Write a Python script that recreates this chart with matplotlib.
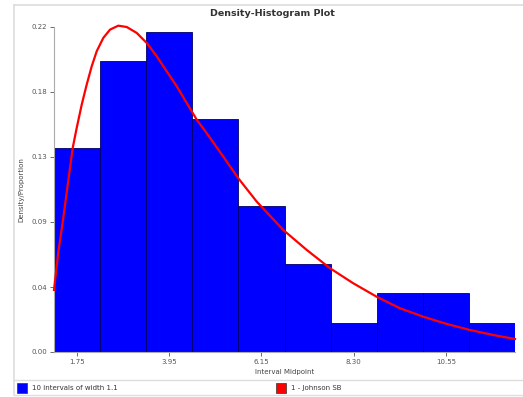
import matplotlib
matplotlib.use('Agg')
import matplotlib.pyplot as plt
from matplotlib.patches import Rectangle
from matplotlib.lines import Line2D

# histogram: 10 intervals of width 1.1
bin_left = [1.2, 2.3, 3.4, 4.5, 5.6, 6.7, 7.8, 8.9, 10.0, 11.1]
bin_width = 1.1
density = [0.1381, 0.1970, 0.2167, 0.1577, 0.0988, 0.0596, 0.0196, 0.0399, 0.0399, 0.0196]

# fitted Johnson SB curve
curve_x = [1.200, 1.300, 1.415, 1.646, 1.742, 1.861, 1.980, 2.100, 2.219, 2.376,
           2.536, 2.734, 2.935, 3.173, 3.412, 3.651, 3.889, 4.128, 4.366, 4.605,
           4.844, 5.240, 5.598, 6.037, 6.671, 7.230, 7.786, 8.342, 8.900, 9.456,
           10.012, 10.570, 11.126, 11.682, 12.200]
curve_y = [0.0420, 0.0670, 0.0894, 0.1381, 0.1517, 0.1674, 0.1810, 0.1934, 0.2036, 0.2126,
           0.2182, 0.2209, 0.2200, 0.2160, 0.2092, 0.2002, 0.1900, 0.1799, 0.1686, 0.1573,
           0.1481, 0.1322, 0.1176, 0.1018, 0.0826, 0.0691, 0.0567, 0.0465, 0.0374, 0.0296,
           0.0239, 0.0190, 0.0149, 0.0115, 0.0088]

xtick_pos = [1.75, 3.95, 6.15, 8.35, 10.55]
xtick_lab = ['1.75', '3.95', '6.15', '8.30', '10.55']
ytick_pos = [0.0, 0.044, 0.088, 0.132, 0.176, 0.22]
ytick_lab = ['0.00', '0.04', '0.09', '0.13', '0.18', '0.22']

W, H = 523, 397
fig = plt.figure(figsize=(W / 100, H / 100), dpi=100)
ax = fig.add_axes([54 / W, 1 - 352 / H, (515 - 54) / W, (352 - 27) / H])

ax.bar(bin_left, density, width=bin_width, align='edge', color='#0000ff',
       edgecolor='#000066', linewidth=0.6)
ax.plot(curve_x, curve_y, color='#ff0000', lw=1.6, clip_on=False, zorder=5,
        solid_joinstyle='round')

ax.set_xlim(1.2, 12.2)
ax.set_ylim(0, 0.22)
ax.set_xticks(xtick_pos)
ax.set_xticklabels(xtick_lab)
ax.set_yticks(ytick_pos)
ax.set_yticklabels(ytick_lab)
ax.tick_params(labelsize=5, colors='#555555', length=3, width=0.6, pad=2)
for s in ['top', 'right']:
    ax.spines[s].set_visible(False)
ax.spines['left'].set_color('#aaaaaa')
ax.spines['bottom'].set_color('#aaaaaa')

ax.set_xlabel('Interval Midpoint', fontsize=5, color='#444444', labelpad=3)
ax.set_ylabel('Density/Proportion', fontsize=5, color='#444444', labelpad=5)
fig.text(272 / W, 1 - 13 / H, 'Density-Histogram Plot', ha='center', va='center',
         fontsize=6.8, fontweight='bold', color='#333333')

# outer frame and legend strip
frame = '#dddddd'
fig.add_artist(Line2D([14 / W, 14 / W], [1 - 5 / H, 1 - 395 / H], color=frame, lw=1.2))
fig.add_artist(Line2D([14 / W, 1], [1 - 5 / H, 1 - 5 / H], color=frame, lw=1.2))
fig.add_artist(Line2D([14 / W, 1], [1 - 380 / H, 1 - 380 / H], color=frame, lw=1.0))
fig.add_artist(Line2D([14 / W, 1], [1 - 395 / H, 1 - 395 / H], color=frame, lw=1.0))

fig.add_artist(Rectangle((17 / W, 1 - 393 / H), 10 / W, 10 / H, facecolor='#0000ff',
                         edgecolor='#333333', lw=0.5))
fig.text(32 / W, 1 - 388 / H, '10 intervals of width 1.1', fontsize=5, va='center', color='#333333')
fig.add_artist(Rectangle((276 / W, 1 - 393 / H), 10 / W, 10 / H, facecolor='#ff0000',
                         edgecolor='#333333', lw=0.5))
fig.text(291 / W, 1 - 388 / H, '1 - Johnson SB', fontsize=5, va='center', color='#333333')

fig.savefig('out.png', dpi=100)
